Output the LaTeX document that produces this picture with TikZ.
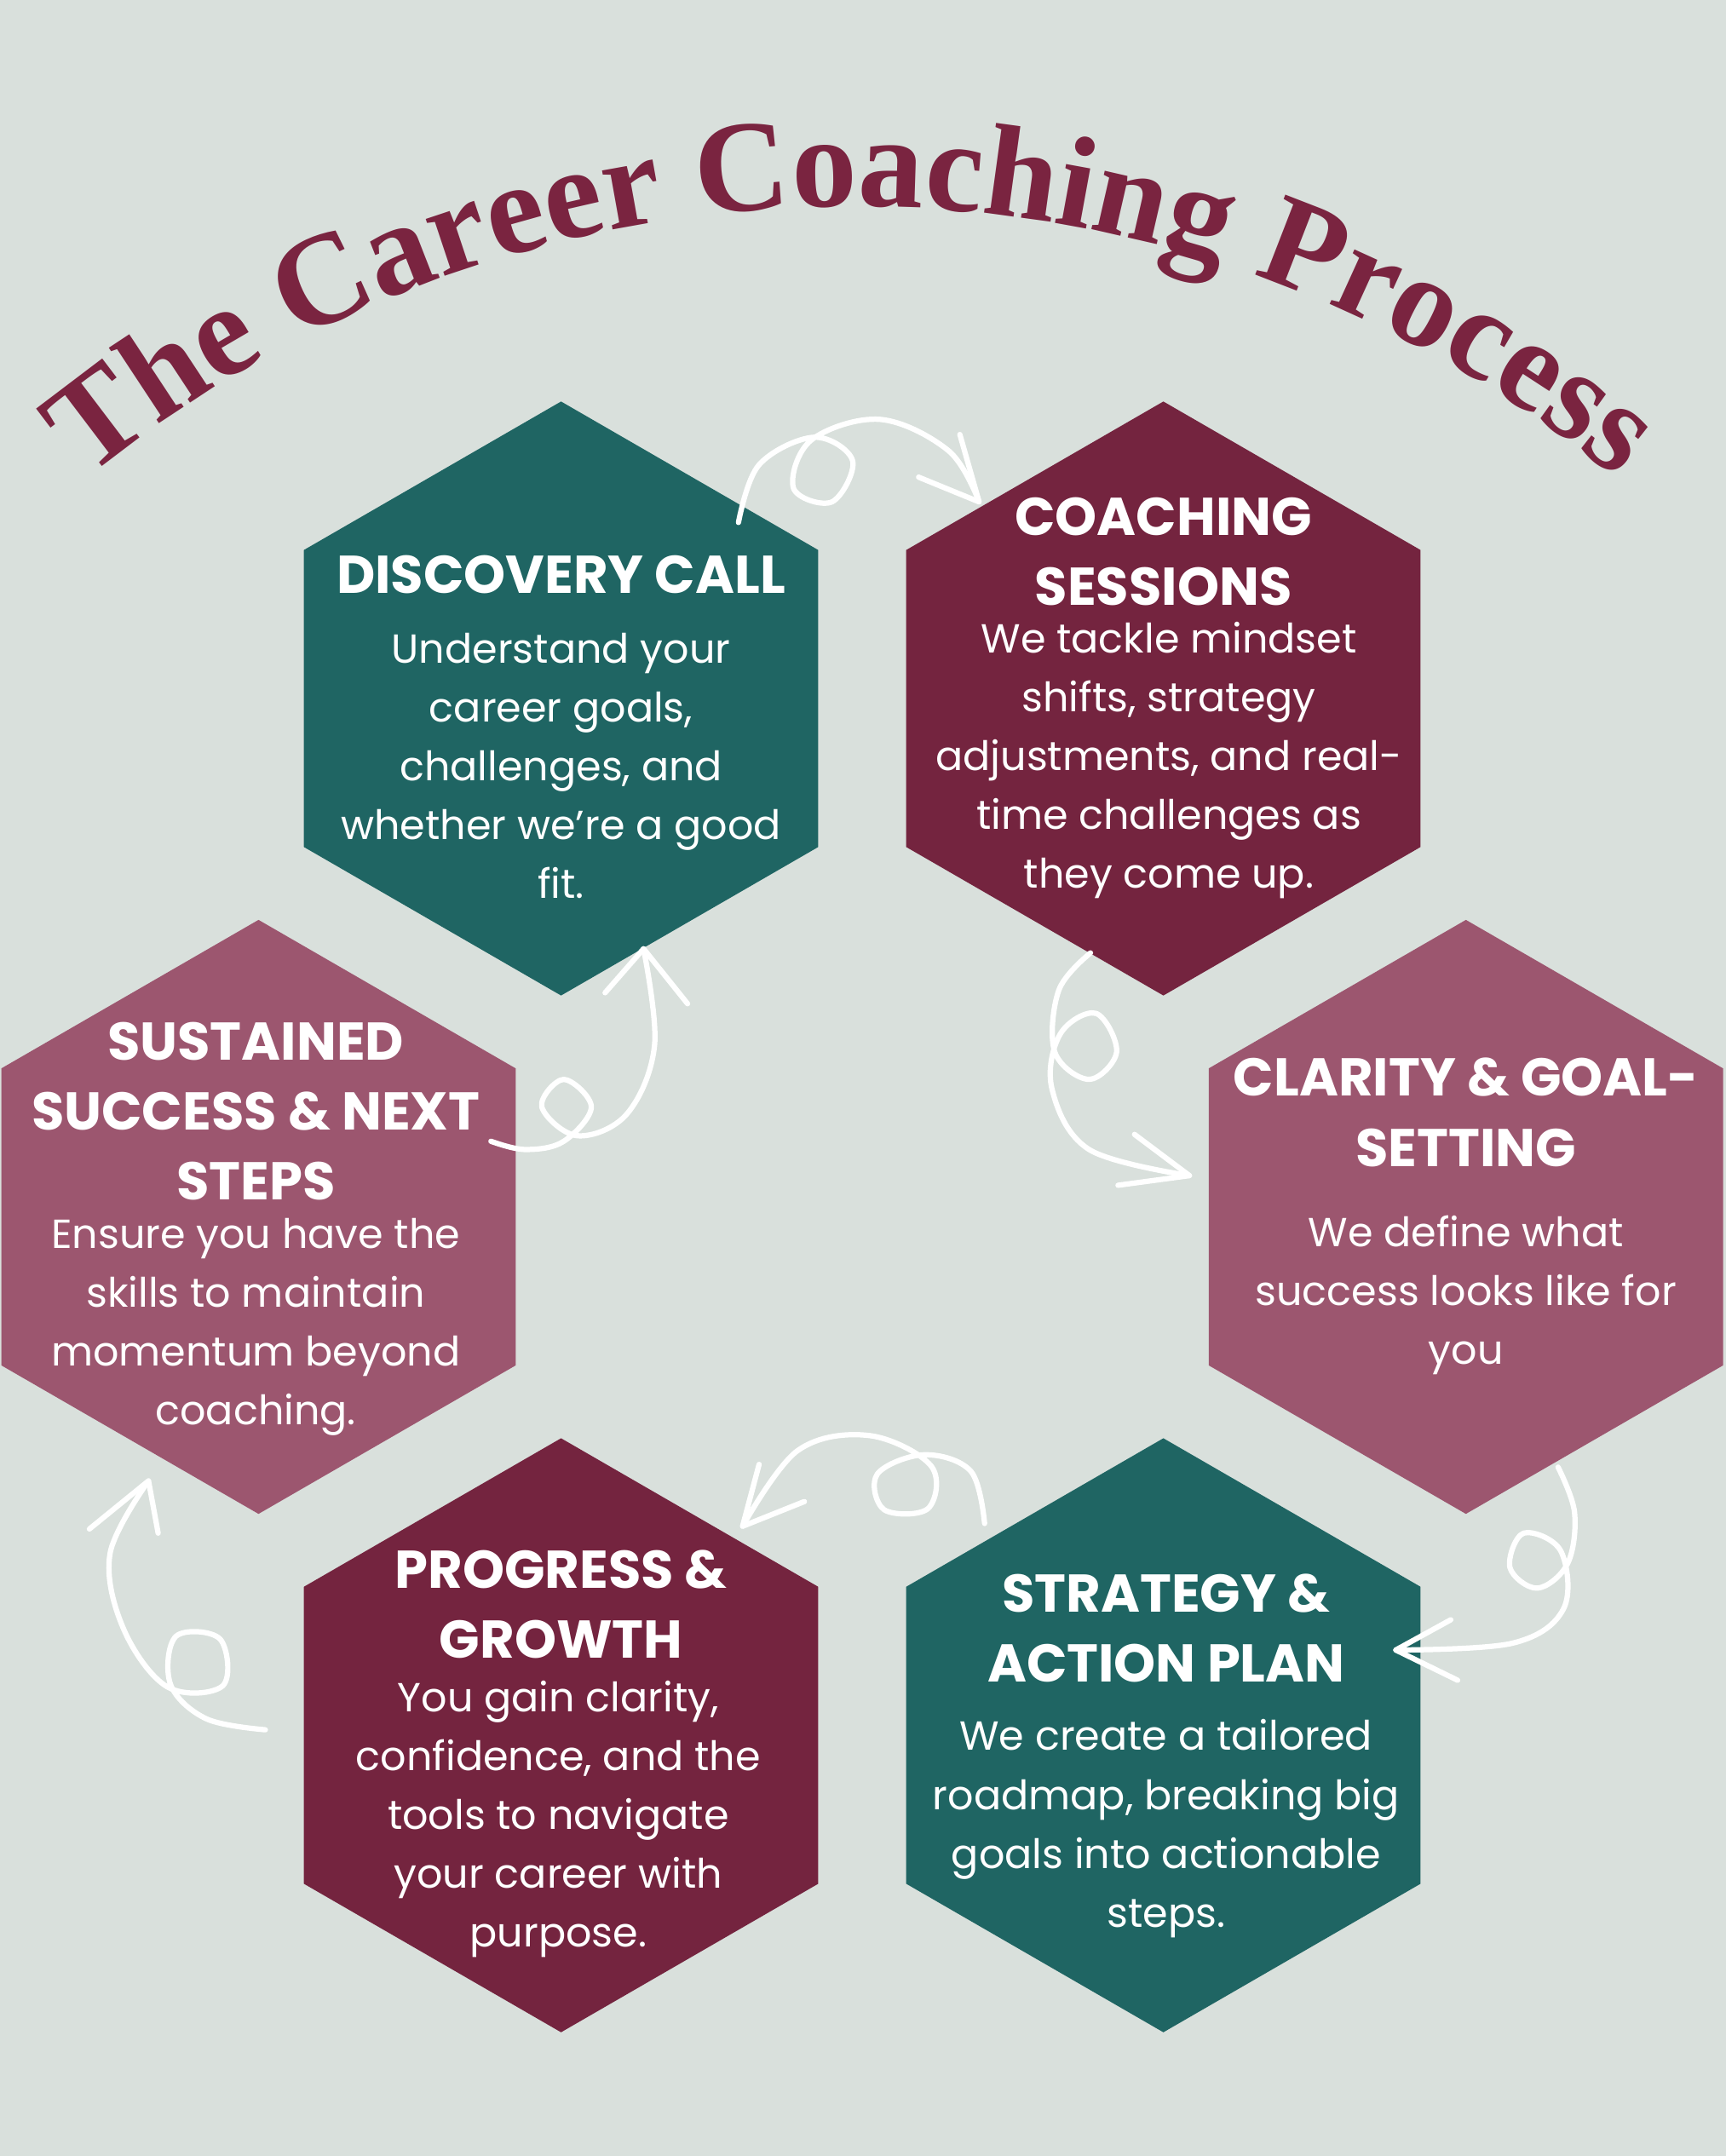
\documentclass[tikz,border=0pt]{standalone}
\usepackage{fontspec}
\setmainfont{Poppins}
\newfontfamily\titlefont{Liberation Serif}
\usetikzlibrary{decorations.text,arrows.meta}
\definecolor{bg}{HTML}{D9E0DC}
\definecolor{tealc}{HTML}{1F6563}
\definecolor{maroon}{HTML}{74243F}
\definecolor{mauve}{HTML}{9C566F}
\definecolor{titlec}{HTML}{7A2440}
\tikzset{
 htitle/.style={text=white,align=center,font=\fontsize{22}{29}\selectfont\bfseries,inner sep=0pt},
 hbody/.style={text=white,align=center,font=\fontsize{16.8}{24.4}\selectfont,inner sep=0pt},
 curl/.style={draw=white,line width=2.2pt,line cap=round,line join=round},
}
\newcommand{\hexat}[2]{\fill[#2] (#1) ++(0,-216) -- ++(187,108) -- ++(0,216) -- ++(-187,108) -- ++(-187,-108) -- ++(0,-216) -- cycle;}
\begin{document}
\begin{tikzpicture}[x=0.02cm,y=-0.02cm]
\fill[bg] (0,0) rectangle (1255,1568);
\useasboundingbox (0,0) rectangle (1255,1568);
\coordinate (c1) at (408,508);
\coordinate (c2) at (846,508);
\coordinate (c3) at (1066,885);
\coordinate (c4) at (846,1262);
\coordinate (c5) at (408,1262);
\coordinate (c6) at (188,885);
\hexat{c1}{tealc}
\hexat{c2}{maroon}
\hexat{c3}{mauve}
\hexat{c4}{tealc}
\hexat{c5}{maroon}
\hexat{c6}{mauve}
% title
\begin{scope}[x=1cm,y=1cm]
\path[decorate,decoration={text along path,text align=center,text color=titlec,
 text={|\titlefont\fontsize{54}{54}\selectfont\bfseries|The Career Coaching Process}}]
 (1.2,-7.02) arc[start angle=129.5,end angle=50.5,radius=17.6];
\end{scope}
% texts
\node[htitle] (t1) at (408,418) {DISCOVERY CALL};
\node[hbody] (b1) at (408,557) {Understand your\\career goals,\\challenges, and\\whether we’re a good\\fit.};
\node[htitle] (t2) at (846,401) {COACHING\\SESSIONS};
\node[hbody] (b2) at (850,553) {We tackle mindset\\shifts, strategy\\adjustments, and real-\\time challenges as\\they come up.};
\node[htitle] (t3) at (1066,809) {CLARITY \& GOAL-\\SETTING};
\node[hbody] (b3) at (1066,942) {We define what\\success looks like for\\you};
\node[htitle] (t4) at (848,1184) {STRATEGY \&\\ACTION PLAN};
\node[hbody] (b4) at (848,1330) {We create a tailored\\roadmap, breaking big\\goals into actionable\\steps.};
\node[htitle] (t5) at (408,1167) {PROGRESS \&\\GROWTH};
\node[hbody] (b5) at (406,1323) {You gain clarity,\\confidence, and the\\tools to navigate\\your career with\\purpose.};
\node[htitle] (t6) at (186,808) {SUSTAINED\\SUCCESS \& NEXT\\STEPS};
\node[hbody] (b6) at (186,965) {Ensure you have the\\skills to maintain\\momentum beyond\\coaching.};
% curly arrows
\coordinate (a1) at (712,365);
\draw[curl] plot[smooth,tension=0.6] coordinates {(537,380) (552,338) (592,318) (620,335) (605,365) (577,355) (590,320) (640,305) (690,328) (a1)};
\draw[curl] (668,347) -- (a1) -- (698,316);
\coordinate (a2) at (865,855);
\draw[curl] plot[smooth,tension=0.6] coordinates {(793,693) (770,720) (767,765) (792,785) (812,765) (797,737) (771,752) (765,792) (792,836) (a2)};
\draw[curl] (825,825) -- (a2) -- (813,862);
\coordinate (a3) at (1015,1200);
\draw[curl] plot[smooth,tension=0.6] coordinates {(1133,1067) (1145,1100) (1140,1137) (1118,1155) (1098,1140) (1108,1115) (1135,1128) (1137,1170) (1100,1195) (a3)};
\draw[curl] (1055,1178) -- (a3) -- (1060,1222);
\coordinate (a4) at (540,1110);
\draw[curl] plot[smooth,tension=0.6] coordinates {(716,1108) (706,1070) (672,1058) (638,1072) (643,1098) (675,1097) (677,1066) (632,1044) (580,1055) (a4)};
\draw[curl] (552,1065) -- (a4) -- (585,1092);
\coordinate (a5) at (108,1077);
\draw[curl] plot[smooth,tension=0.6] coordinates {(193,1258) (150,1250) (124,1225) (128,1190) (160,1192) (162,1226) (122,1227) (90,1185) (80,1130) (a5)};
\draw[curl] (65,1112) -- (a5) -- (115,1115);
\coordinate (a6) at (468,690);
\draw[curl] plot[smooth,tension=0.6] coordinates {(357,830) (382,836) (410,830) (430,805) (410,785) (394,805) (420,826) (456,810) (476,760) (a6)};
\draw[curl] (440,722) -- (a6) -- (500,730);
\end{tikzpicture}
\end{document}
